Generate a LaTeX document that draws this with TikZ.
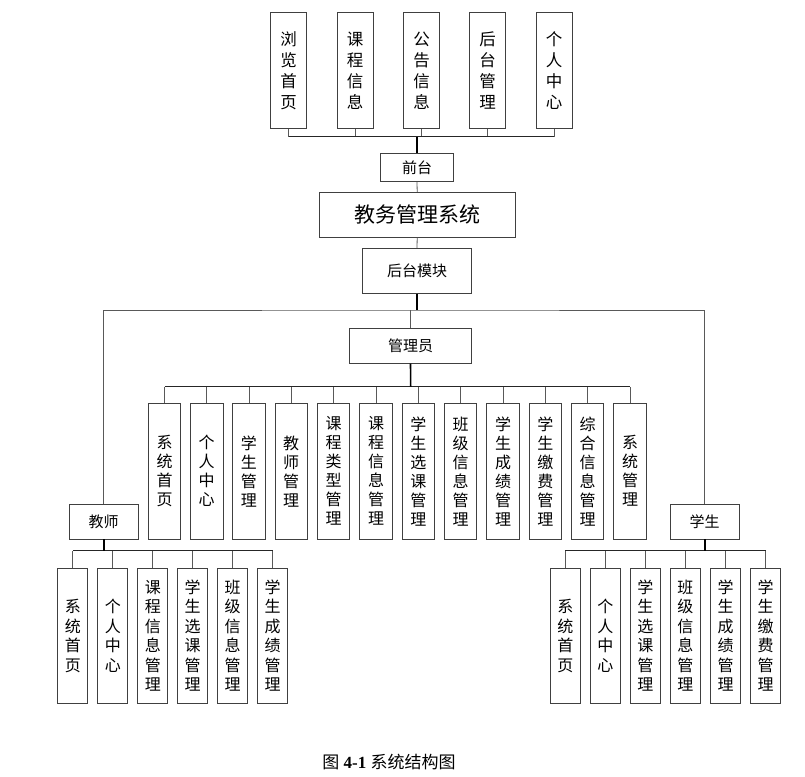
\documentclass[tikz,border=0pt]{standalone}
\usepackage{fontspec}
\setmainfont{Liberation Serif}
\newfontfamily\cjk{Noto Sans CJK SC}

\begin{document}
\begin{tikzpicture}[x=1pt,y=-1pt,
  box/.style={draw=black!75,line width=0.8pt,inner sep=0pt,align=center},
  topbox/.style={box,minimum width=36,minimum height=116,font=\cjk\fontsize{16.5}{21}\selectfont},
  admbox/.style={box,minimum width=32.5,minimum height=135.7,font=\cjk\fontsize{16}{19}\selectfont},
  subbox/.style={box,minimum width=30,minimum height=135,font=\cjk\fontsize{16}{19.5}\selectfont},
  midbox/.style={box,font=\cjk\fontsize{15}{17}\selectfont},
  branch/.style={draw=black!65,line width=0.8pt},
  trunk/.style={draw=black,line width=1.6pt},
  hbar/.style={draw=black!85,line width=1.1pt}]

\useasboundingbox (0,0) rectangle (805,776);

% 前台
\node[topbox] (t1) at (288.7,70.3) {浏\\览\\首\\页};
\node[topbox] (t2) at (355,70.3) {课\\程\\信\\息};
\node[topbox] (t3) at (421.5,70.3) {公\\告\\信\\息};
\node[topbox] (t4) at (487.7,70.3) {后\\台\\管\\理};
\node[topbox] (t5) at (554.2,70.3) {个\\人\\中\\心};
\coordinate (qbar) at (417,136.7);

\node[midbox,minimum width=72.6,minimum height=28.4] (qt) at (417,167.5) {前台};
\node[box,minimum width=195.7,minimum height=45,font=\cjk\fontsize{21}{24}\selectfont] (jw) at (417.2,214.8) {教务管理系统};
\node[midbox,minimum width=108.6,minimum height=45] (ht) at (417,270.8) {后台模块};
\coordinate (hbar) at (417,310);

% 管理员
\node[midbox,minimum width=121.6,minimum height=34.6] (gly) at (410.5,346) {管理员};
\coordinate (gbar) at (410.7,386.7);
\node[admbox] (a1) at (164.5,471.2) {系\\统\\首\\页};
\node[admbox] (a2) at (206.7,471.2) {个\\人\\中\\心};
\node[admbox] (a3) at (248.9,471.2) {学\\生\\管\\理};
\node[admbox] (a4) at (291.2,471.2) {教\\师\\管\\理};
\node[admbox] (a5) at (333.6,471.2) {课\\程\\类\\型\\管\\理};
\node[admbox] (a6) at (376,471.2) {课\\程\\信\\息\\管\\理};
\node[admbox] (a7) at (418.3,471.2) {学\\生\\选\\课\\管\\理};
\node[admbox] (a8) at (460.5,471.2) {班\\级\\信\\息\\管\\理};
\node[admbox] (a9) at (503,471.2) {学\\生\\成\\绩\\管\\理};
\node[admbox] (a10) at (545.3,471.2) {学\\生\\缴\\费\\管\\理};
\node[admbox] (a11) at (587.5,471.2) {综\\合\\信\\息\\管\\理};
\node[admbox] (a12) at (630,471.2) {系\\统\\管\\理};

% 教师
\node[midbox,minimum width=69.3,minimum height=34.3] (js) at (103.7,521.8) {教师};
\coordinate (jbar) at (103.7,550.7);
\node[subbox] (j1) at (72.8,635.8) {系\\统\\首\\页};
\node[subbox] (j2) at (112.8,635.8) {个\\人\\中\\心};
\node[subbox] (j3) at (152.8,635.8) {课\\程\\信\\息\\管\\理};
\node[subbox] (j4) at (192.7,635.8) {学\\生\\选\\课\\管\\理};
\node[subbox] (j5) at (232.5,635.8) {班\\级\\信\\息\\管\\理};
\node[subbox] (j6) at (272.5,635.8) {学\\生\\成\\绩\\管\\理};

% 学生
\node[midbox,minimum width=69.3,minimum height=34.3] (xs) at (704.7,521.8) {学生};
\coordinate (xbar) at (704.7,550.7);
\node[subbox] (x1) at (565.3,635.8) {系\\统\\首\\页};
\node[subbox] (x2) at (605.3,635.8) {个\\人\\中\\心};
\node[subbox] (x3) at (645.3,635.8) {学\\生\\选\\课\\管\\理};
\node[subbox] (x4) at (685.3,635.8) {班\\级\\信\\息\\管\\理};
\node[subbox] (x5) at (725.7,635.8) {学\\生\\成\\绩\\管\\理};
\node[subbox] (x6) at (765.7,635.8) {学\\生\\缴\\费\\管\\理};

% 连线
\foreach \i in {1,...,5} \draw[branch] (t\i.south) |- (qbar);
\draw[hbar] (t1.south |- qbar) -- (t5.south |- qbar); %前台のライン
\draw[trunk] (qbar) -- (qt.north);
\draw[branch] (qt.south) -- (jw.north);
\draw[branch] (jw.south) -- (ht.north);
\draw[trunk] (ht.south) -- (hbar);
\draw[branch] (js.north) |- (hbar) -| (xs.north);
\draw[branch] (gly.north) -- (gly.north |- hbar);

\foreach \i in {1,...,12} \draw[branch] (a\i.north) -- (a\i.north |- gbar);
\draw[hbar] (a1.north |- gbar) -- (a12.north |- gbar); %管理员のライン
\draw[trunk] (gly.south) -- (gbar);

\foreach \i in {1,...,6} \draw[branch] (j\i.north) -- (j\i.north |- jbar);
\draw[hbar] (j1.north |- jbar) -- (j6.north |- jbar); %教师のライン
\draw[trunk] (js.south) -- (jbar);

\foreach \i in {1,...,6} \draw[branch] (x\i.north) -- (x\i.north |- xbar);
\draw[hbar] (x1.north |- xbar) -- (x6.north |- xbar); %学生のライン
\draw[trunk] (xs.south) -- (xbar);

\node[font=\fontsize{17}{19}\selectfont] (cap) at (389,761.7) {{\cjk 图} \textbf{4-1} {\cjk 系统结构图}};

\end{tikzpicture}
\end{document}
